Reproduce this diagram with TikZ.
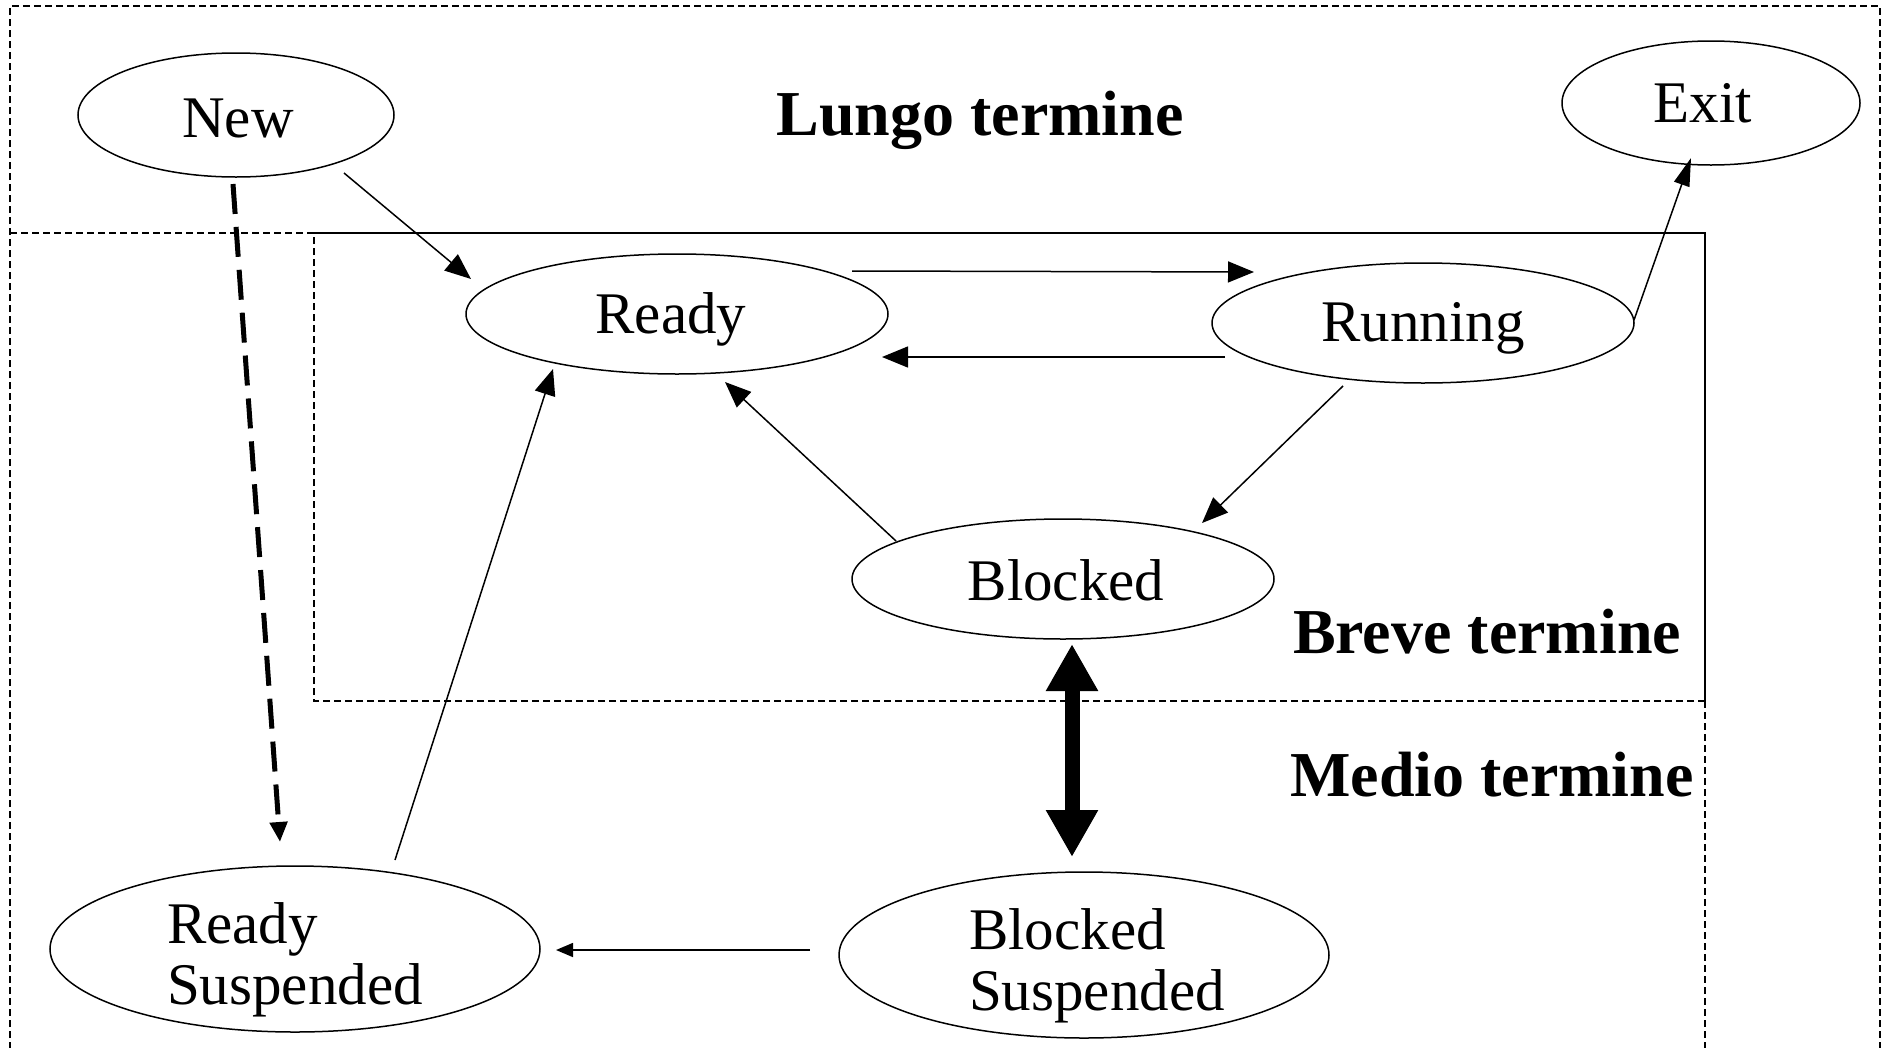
\documentclass[tikz,border=0pt]{standalone}
\usepackage{fontspec}
\setmainfont{Liberation Serif}
\usetikzlibrary{shapes.geometric,arrows.meta,calc}
\newcommand{\twolines}[2]{\begin{tabular}{@{}l@{}}#1\\#2\end{tabular}}
\newcommand{\shiftdown}[2]{\raisebox{-#1}[\height][\depth]{#2}}
\newcommand{\shiftflat}[2]{\raisebox{-#1}[\dimexpr(\height-\depth)/2\relax][\dimexpr(\depth-\height)/2\relax]{#2}}
\begin{document}
\begin{tikzpicture}[x=1pt,y=-1pt,
  state/.style={draw,ellipse,line width=1.5pt,inner sep=0pt,font=\fontsize{59}{61}\selectfont},
  lbl/.style={font=\fontsize{64}{70}\selectfont\bfseries,inner sep=0pt},
  trans/.style={line width=1.5pt,-{Triangle[length=26pt,width=21pt]}},
  zone/.style={line width=1.5pt,dash pattern=on 7pt off 4pt},
  zonesolid/.style={line width=1.5pt}
]
\useasboundingbox (0,0) rectangle (1895,1047);
% zones
\draw[zone] (10,1060) -- (10,6) -- (1880,6) -- (1880,1060);
\draw[zone] (10,233) -- (314,233);
\draw[zonesolid] (314,233) -- (1705,233) -- (1705,701);
\draw[zone] (1705,701) -- (314,701) -- (314,233);
\draw[zone] (1705,701) -- (1705,1060);
% labels
\node[lbl] (lungo) at (980,120) {Lungo termine};
\node[lbl] (breve) at (1487,632) {Breve termine};
\node[lbl] (medio) at (1492,775) {Medio termine};
% states
\node[state,minimum width=316pt,minimum height=124pt] (new) at (236,115) {\shiftdown{3pt}{New}\kern-4pt};
\node[state,minimum width=298pt,minimum height=124pt] (exit) at (1711,103) {Exit\kern16pt};
\node[state,minimum width=422pt,minimum height=120pt] (ready) at (677,314) {\shiftdown{5pt}{Ready}\kern12pt};
\node[state,minimum width=422pt,minimum height=120pt] (running) at (1423,323) {\shiftdown{5pt}{Running}};
\node[state,minimum width=422pt,minimum height=120pt] (blocked) at (1063,579) {\kern6pt\shiftdown{1pt}{Blocked}};
\node[state,minimum width=490pt,minimum height=166pt] (rsusp) at (295,949) {\shiftflat{16pt}{\twolines{Ready}{Suspended}}};
\node[state,minimum width=490pt,minimum height=166pt] (bsusp) at (1084,955) {\kern26pt\shiftflat{16pt}{\twolines{Blocked}{Suspended}}};
% transitions
\draw[trans] ($(new.center)+(108,58)$) -- ($(ready.center)+(-206,-35)$);
\draw[line width=5pt,dash pattern=on 30pt off 13pt,-{Triangle[length=20pt,width=17pt]}]
  ($(new.center)+(-3,69)$) -- ($(rsusp.center)+(-15,-107)$);
\draw[trans] ($(ready.center)+(175,-43)$) -- ($(running.center)+(-169,-51)$);
\draw[trans] ($(running.center)+(-198,34)$) -- ($(ready.center)+(205,43)$);
\draw[line width=1.5pt,-{Triangle[length=28pt,width=16pt]}] ($(running.center)+(211,-3)$) -- ($(exit.center)+(-20,55)$);
\draw[trans] ($(running.center)+(-80,63)$) -- ($(blocked.center)+(139,-56)$);
\draw[trans] ($(blocked.center)+(-167,-38)$) -- ($(ready.center)+(48,68)$);
\draw[trans] ($(rsusp.center)+(100,-89)$) -- ($(ready.center)+(-124,55)$);
\draw[line width=15pt,{Triangle[length=47pt,width=49pt]}-{Triangle[length=47pt,width=49pt]}]
  ($(blocked.center)+(9,65)$) -- ($(bsusp.center)+(-12,-98)$);
\draw[line width=1.5pt,-{Triangle[length=17pt,width=14pt]}] ($(bsusp.center)+(-274,-5)$) -- ($(rsusp.center)+(261,1)$);
\end{tikzpicture}
\end{document}
